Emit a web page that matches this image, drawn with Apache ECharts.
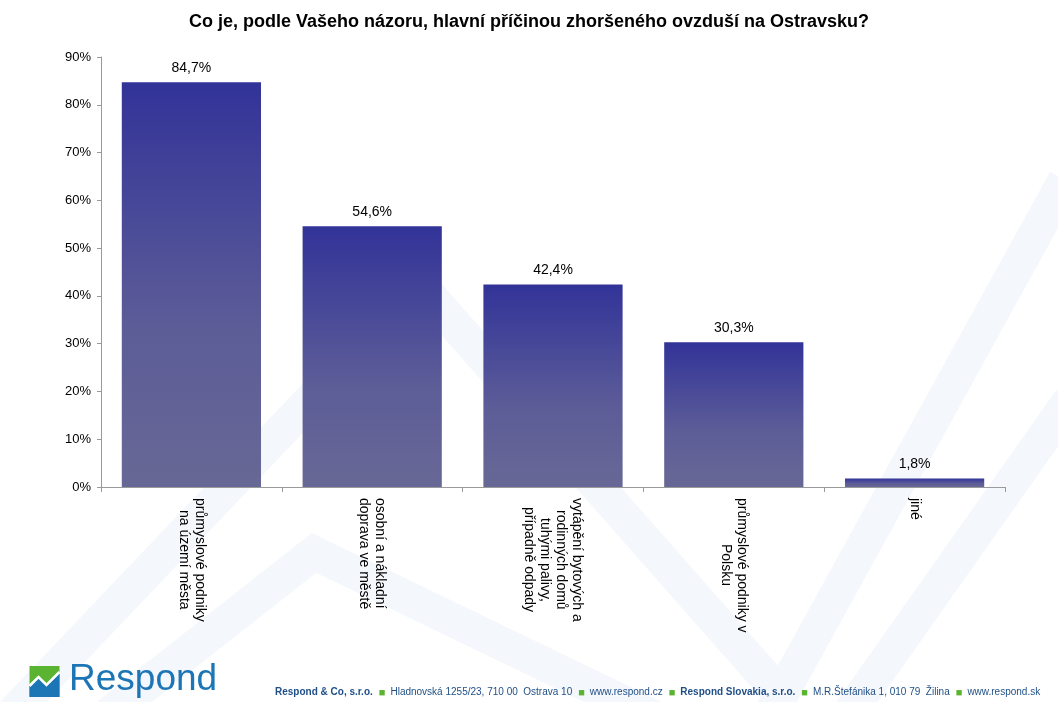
<!DOCTYPE html>
<html>
<head>
<meta charset="utf-8">
<title>Co je, podle Vašeho názoru, hlavní příčinou zhoršeného ovzduší na Ostravsku?</title>
<script src="https://cdn.jsdelivr.net/npm/echarts@6/dist/echarts.min.js"></script>
<style>
  html, body { margin: 0; padding: 0; background: #ffffff; }
  #chart { width: 1058px; height: 702px; }
</style>
</head>
<body>
<div id="chart"></div>
<script>
// Survey answers (share of respondents, %)
const titleText = 'Co je, podle Vašeho názoru, hlavní příčinou zhoršeného ovzduší na Ostravsku?';
const categories = [
  'průmyslové podniky\nna území města',
  'osobní a nákladní\ndoprava ve městě',
  'vytápění bytových a\nrodinných domů\ntuhými palivy,\npřípadně odpady',
  'průmyslové podniky v\nPolsku',
  'jiné'
];
const values = [84.7, 54.6, 42.4, 30.3, 1.8];
const yTicks = [0, 10, 20, 30, 40, 50, 60, 70, 80, 90];
const footerParts = [
  { text: 'Respond & Co, s.r.o.', bold: true },
  { text: 'Hladnovská 1255/23, 710 00  Ostrava 10', bold: false },
  { text: 'www.respond.cz', bold: false },
  { text: 'Respond Slovakia, s.r.o.', bold: true },
  { text: 'M.R.Štefánika 1, 010 79  Žilina', bold: false },
  { text: 'www.respond.sk', bold: false }
];

const fmtPct = v => v.toFixed(1).replace('.', ',') + '%';
const FONT = '"Liberation Sans", Arial, sans-serif';
const CAT_FONT_SIZE = 14;

// measure text so that the lines of each category label can be centred
const measureCtx = document.createElement('canvas').getContext('2d');
measureCtx.font = CAT_FONT_SIZE + 'px ' + FONT;
const textWidth = s => measureCtx.measureText(s).width;

const catRich = { c: { fontSize: CAT_FONT_SIZE, lineHeight: 16, color: '#000', fontFamily: FONT } };
function centredLines(label) {
  const lines = label.split('\n');
  const widths = lines.map(textWidth);
  const maxW = Math.max.apply(null, widths);
  return lines.map((l, i) => {
    const pad = Math.round((maxW - widths[i]) / 2);
    if (pad <= 0) return '{c|' + l + '}';
    const key = 'p' + pad;
    catRich[key] = { width: pad, fontSize: CAT_FONT_SIZE, lineHeight: 16 };
    return '{' + key + '| }{c|' + l + '}';
  }).join('\n');
}
const catLabels = categories.map(centredLines);

const chart = echarts.init(document.getElementById('chart'), null, { renderer: 'canvas' });

// footer rich text: parts separated by small green squares
const footerRich = footerParts.map((p, i) =>
  (i > 0 ? '{sq|■}' : '') + (p.bold ? '{b|' + p.text + '}' : '{n|' + p.text + '}')
).join('');

// faint background zigzag strokes
const wm = '#f4f7fc';
const watermark = [
  [[-5, 732], [420, 285], [790, 705]],
  [[95, 725], [314, 553], [660, 720]],
  [[770, 715], [1065, 180]],
  [[850, 712], [1070, 400]]
].map(pts => ({
  type: 'polyline', z: -10, silent: true,
  shape: { points: pts },
  style: { stroke: wm, lineWidth: 34, fill: null, lineJoin: 'miter' }
}));

const option = {
  backgroundColor: '#ffffff',
  animation: false,
  textStyle: { fontFamily: FONT },
  title: {
    text: titleText,
    left: 'center',
    top: 8,
    textStyle: { fontFamily: FONT, fontSize: 18, fontWeight: 'bold', color: '#000' }
  },
  grid: { left: 101, right: 53, top: 57, bottom: 215, containLabel: false },
  xAxis: {
    type: 'category',
    data: categories,
    axisLine: { lineStyle: { color: '#9a9a9a', width: 1 } },
    axisTick: { show: true, length: 5, alignWithLabel: false, lineStyle: { color: '#9a9a9a' } },
    axisLabel: {
      interval: 0,
      rotate: -90,
      margin: 11,
      color: '#000',
      fontSize: CAT_FONT_SIZE,
      lineHeight: 16,
      formatter: (v, idx) => catLabels[idx],
      rich: catRich
    }
  },
  yAxis: {
    type: 'value',
    min: 0,
    max: 90,
    interval: 10,
    splitLine: { show: false },
    axisLine: { show: true, lineStyle: { color: '#9a9a9a', width: 1 } },
    axisTick: { show: true, length: 4, lineStyle: { color: '#9a9a9a' } },
    axisLabel: {
      color: '#000',
      fontSize: 13,
      margin: 10,
      formatter: v => (yTicks.indexOf(v) >= 0 ? v + '%' : '')
    }
  },
  series: [{
    type: 'bar',
    data: values,
    barCategoryGap: '23%',
    itemStyle: {
      color: new echarts.graphic.LinearGradient(0, 0, 0, 1, [
        { offset: 0, color: '#323398' },
        { offset: 0.6, color: '#5c5c98' },
        { offset: 1, color: '#686896' }
      ])
    },
    label: {
      show: true,
      position: 'top',
      distance: 7,
      color: '#000',
      fontSize: 14,
      fontFamily: FONT,
      formatter: p => fmtPct(p.value)
    }
  }],
  graphic: [
    ...watermark,
    // logo mark: green square with a white zigzag and a blue lower part
    {
      type: 'group', left: 27, top: 666,
      children: [
        { type: 'rect', shape: { x: 0, y: 0, width: 30, height: 31 }, style: { fill: '#5bb431' } },
        { type: 'polygon', shape: { points: [[0, 20], [9, 11], [17, 19], [30, 6], [30, 31], [0, 31]] }, style: { fill: '#1c75b5' } },
        { type: 'polyline', shape: { points: [[0, 20], [9, 11], [17, 19], [30, 6]] }, style: { stroke: '#ffffff', lineWidth: 2.5, fill: null } }
      ]
    },
    {
      type: 'text', left: 69, top: 661,
      style: { text: 'Respond', font: '37px ' + FONT, fill: '#1c75b5' }
    },
    {
      type: 'text', left: 275, top: 687,
      style: {
        text: footerRich,
        rich: {
          b: { fontFamily: FONT, fontSize: 10, fontWeight: 'bold', fill: '#1f4f86', color: '#1f4f86' },
          n: { fontFamily: FONT, fontSize: 10, fill: '#1f4f86', color: '#1f4f86' },
          sq: { fontFamily: FONT, fontSize: 11, fill: '#5bb431', color: '#5bb431', padding: [0, 5, 0, 6] }
        }
      }
    }
  ]
};

chart.setOption(option);
</script>
</body>
</html>
